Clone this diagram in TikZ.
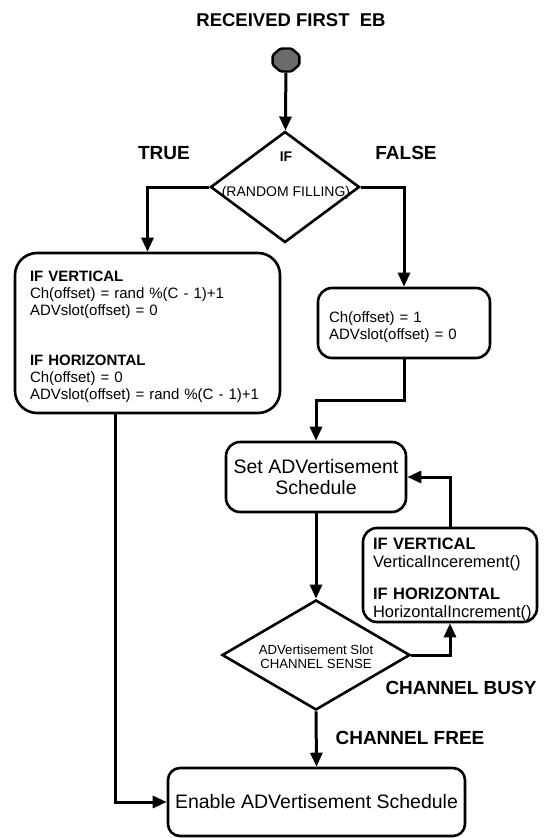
\documentclass[tikz,border=0pt]{standalone}
\usepackage{fontspec}
\setmainfont{Liberation Sans}
\usetikzlibrary{arrows.meta,shapes.geometric}

\tikzset{
  box/.style={draw, line width=2.6pt, fill=white, inner ysep=0pt},
  decision/.style={draw, diamond, line width=2.6pt, fill=white, inner sep=0pt},
  conn/.style={line width=3pt},
  arr/.style={conn, -{Triangle[width=12pt,length=14pt]}},
  heading/.style={font=\fontsize{19}{21}\selectfont\bfseries},
  body/.style={font=\fontsize{15}{17}\selectfont},
}
% strut that lowers a text block by half its excess height
\newcommand{\lowerby}[1]{\rule{0pt}{#1}}

\begin{document}
\begin{tikzpicture}[x=1pt,y=-1pt]
\useasboundingbox (0,0) rectangle (545,838);

% headings and branch labels
\node[heading, font=\fontsize{18.5}{20}\selectfont\bfseries] (title) at (291,20) {RECEIVED FIRST\ \ EB};
\node[heading] (truelbl) at (164,153) {TRUE};
\node[heading] (falselbl) at (406,153) {FALSE};
\node[heading] (busylbl) at (461,688) {CHANNEL BUSY};
\node[heading] (freelbl) at (410,738) {CHANNEL FREE};

% start terminal: a slightly flattened octagon
\begin{scope}[shift={(286,60)}, yscale=0.86]
  \node[draw, regular polygon, regular polygon sides=8, minimum size=29pt,
        line width=2.4pt, rounded corners=1.5pt, fill=black!58, inner sep=0pt,
        transform shape] (start) at (0,0) {};
\end{scope}

% first decision
\node[decision, minimum width=149pt, minimum height=111pt] (d1) at (285,187) {};
\node[font=\fontsize{14}{15}\selectfont\bfseries] (d1a) at (286,157) {IF};
\node[font=\fontsize{14}{15}\selectfont] (d1b) at (286,193) {(RANDOM FILLING)};

% random filling box
\node[box, body, rounded corners=22pt, minimum width=265pt, minimum height=160pt,
      text width=235pt, inner xsep=15pt, align=left] (L) at (147.5,333)
  {\textbf{IF VERTICAL}\lowerby{18pt}\\
   Ch(offset) = rand \%(C - 1)+1\\
   ADVslot(offset) = 0\\[33pt]
   \textbf{IF HORIZONTAL}\\
   Ch(offset) = 0\\
   ADVslot(offset) = rand \%(C - 1)+1};

% sequential filling box
\node[box, body, rounded corners=14pt, minimum width=172pt, minimum height=70pt,
      text width=150pt, inner xsep=11pt, align=left] (R) at (404,323)
  {Ch(offset) = 1\lowerby{19pt}\\ ADVslot(offset) = 0};

% schedule box
\node[box, font=\fontsize{19.5}{20.5}\selectfont, rounded corners=14pt,
      minimum width=180pt, minimum height=70pt, align=center] (S) at (316,477)
  {Set ADVertisement\\ Schedule};

% channel sense decision
\node[decision, minimum width=188pt, minimum height=110pt] (d2) at (316,655) {};
\node[font=\fontsize{13.2}{14}\selectfont, align=center] (d2t) at (316,657)
  {ADVertisement Slot\\ CHANNEL SENSE};

% increment box
\node[box, font=\fontsize{16.5}{18}\selectfont, rounded corners=14pt,
      minimum width=174pt, minimum height=94pt, text width=154pt, inner xsep=10pt,
      align=left] (I) at (450,575)
  {\textbf{IF VERTICAL}\lowerby{20pt}\\ VerticalIncerement()\\[14pt]
   \textbf{IF HORIZONTAL}\\ HorizontalIncrement()};

% enable box
\node[box, font=\fontsize{19.5}{20.5}\selectfont, rounded corners=12pt,
      minimum width=297pt, minimum height=68pt] (E) at (316.5,802)
  {Enable ADVertisement Schedule};

% connectors
\coordinate (join) at (404,400);
\draw[arr] (start) -- (d1);
\draw[arr] (d1.west) -| (L.north);
\draw[arr] (d1.east) -| (R.north);
\draw[arr] (R.south) -- (join) -| (S.north);
\draw[arr] (S.south) -- (d2.north);
\draw[arr] (d2.east) -| (I.south);
\draw[arr] (I.north) |- (S.east);
\draw[arr] (d2.south) -- (E.north);
\draw[arr] ([xshift=-32.5pt]L.south) |- (E.west);
\end{tikzpicture}
\end{document}
